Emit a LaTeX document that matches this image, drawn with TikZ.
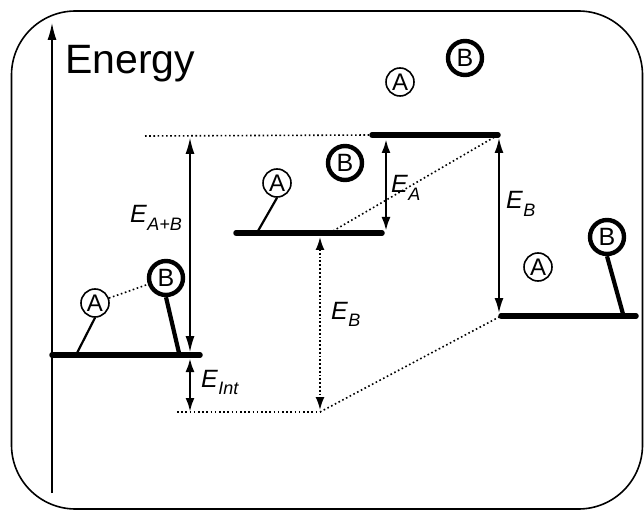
\documentclass[tikz,border=0pt]{standalone}
\usepackage{fontspec}
\setmainfont{Liberation Sans}
\usetikzlibrary{arrows.meta}
\newcommand\elab[1]{\fontsize{25}{25}\selectfont\itshape E\kern0.5pt\raisebox{-7.5pt}{\fontsize{18}{18}\selectfont #1}}
\begin{document}
\begin{tikzpicture}[x=1pt,y=-1pt,
  level/.style={line width=5.5pt, line cap=round},
  dots/.style={line width=1.6pt, dash pattern=on 1.6pt off 2.6pt},
  atomA/.style={circle, draw, line width=1.6pt, minimum size=28pt, inner sep=0pt, font=\fontsize{24}{24}\selectfont},
  atomB/.style={circle, draw, line width=4.4pt, minimum size=34pt, inner sep=0pt, font=\fontsize{25}{25}\selectfont},
  stickA/.style={line width=2.2pt},
  stickB/.style={line width=4.2pt},
  thinarrow/.style={line width=1.2pt, {Latex[length=16pt,width=9pt]}-{Latex[length=16pt,width=9pt]}},
  medarrow/.style={line width=1.8pt, {Latex[length=15pt,width=9pt]}-{Latex[length=15pt,width=9pt]}},
  thickarrow/.style={line width=2.6pt, {Latex[length=14pt,width=9pt]}-{Latex[length=14pt,width=9pt]}},
  dotarrow/.style={line width=1.8pt, dash pattern=on 1.8pt off 2pt, {Latex[length=13pt,width=9pt]}-{Latex[length=13pt,width=9pt]}},
  lab/.style={anchor=base west, inner sep=0pt}
]
\useasboundingbox (0,0) rectangle (644,510);
% frame
\draw[line width=1.6pt, rounded corners=64pt] (11.5,11) rectangle (642.5,509);
% axis
\coordinate (ax0) at (52,493);
\coordinate (ax1) at (52,23);
\draw[line width=1.3pt, -{Latex[length=17pt,width=9pt]}] (ax0) -- (ax1);
\node[anchor=base west, inner sep=0pt, font=\fontsize{41}{41}\selectfont] (energy) at (65,74) {Energy};

% level coordinates
\coordinate (L1w) at (52,355);  \coordinate (L1e) at (200,355);
\coordinate (L2w) at (236,233); \coordinate (L2e) at (382,233);
\coordinate (L3w) at (372,135); \coordinate (L3e) at (498,135);
\coordinate (L4w) at (501,316); \coordinate (L4e) at (636,316);
\draw[level] (L1w) -- (L1e);
\draw[level] (L2w) -- (L2e);
\draw[level] (L3w) -- (L3e);
\draw[level] (L4w) -- (L4e);

% dotted guide lines
\coordinate (Dt) at (145,136);
\coordinate (Db0) at (177,412);
\coordinate (Db1) at (320,412);
\coordinate (Dm) at (333,231);
\draw[dots] (Dt) -- (L3w);
\draw[dots] (Db0) -- (Db1);
\draw[dots] (Dm) -- (L3e);
\draw[dots] (Db1) -- (L4w);

% atoms
\node[atomA] (a1) at (95,303) {A};
\node[atomB] (b1) at (166,278) {B};
\node[atomA] (a2) at (277,183) {A};
\node[atomB] (b2) at (345,163) {B};
\node[atomA] (a3) at (400,82) {A};
\node[atomB] (b3) at (465,58) {B};
\node[atomA] (a4) at (538,267) {A};
\node[atomB] (b4) at (607,237) {B};

% sticks
\coordinate (s1) at (77,353);
\coordinate (s2) at (179,353);
\coordinate (s3) at (258,231);
\coordinate (s4) at (623,314);
\draw[stickA] (a1.south) -- (s1);
\draw[stickB] (b1.south) -- (s2);
\draw[stickA] (a2.south) -- (s3);
\draw[stickB] (b4.south) -- (s4);
\draw[dots] (a1) -- (b1);

% energy arrows
\coordinate (eab0) at (190,138); \coordinate (eab1) at (190,352);
\coordinate (ei0) at (190,358);  \coordinate (ei1) at (190,412);
\coordinate (ea0) at (386,139);  \coordinate (ea1) at (386,231);
\coordinate (eb0) at (499,138);  \coordinate (eb1) at (499,313);
\coordinate (em0) at (320,237);  \coordinate (em1) at (320,410);
\draw[thinarrow] (eab0) -- (eab1);
\draw[thickarrow] (ei0) -- (ei1);
\draw[thickarrow] (ea0) -- (ea1);
\draw[medarrow] (eb0) -- (eb1);
\draw[dotarrow] (em0) -- (em1);

% labels
\node[lab] (lab1) at (130,223) {\elab{A+B}};
\node[lab] (lab2) at (391,193) {\elab{A}};
\node[lab] (lab3) at (506,209) {\elab{B}};
\node[lab] (lab4) at (331,319) {\elab{B}};
\node[lab] (lab5) at (201,387) {\elab{Int}};
\end{tikzpicture}
\end{document}
